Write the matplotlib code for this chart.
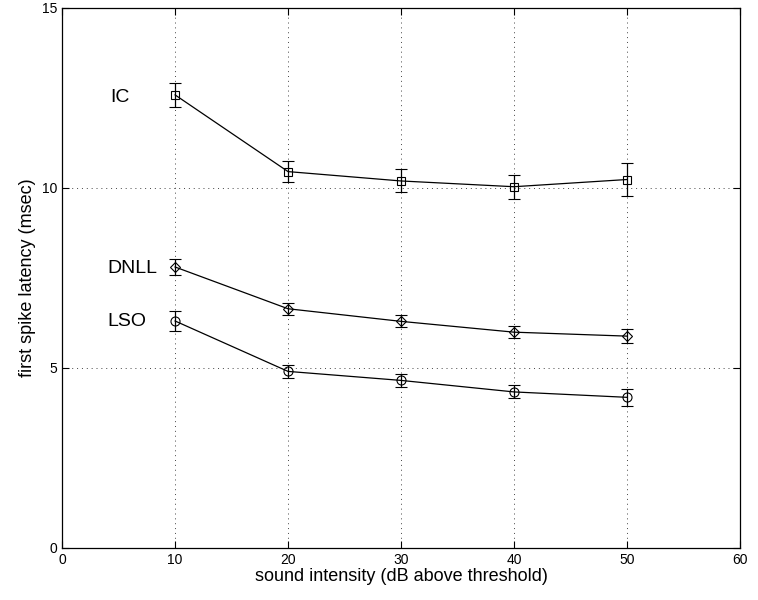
import matplotlib
matplotlib.use("Agg")
import matplotlib.pyplot as plt

plt.rcParams['font.family'] = ['Liberation Sans', 'DejaVu Sans']

intensity = [10, 20, 30, 40, 50]

ic = [12.58, 10.45, 10.19, 10.03, 10.23]
ic_err = [0.33, 0.30, 0.32, 0.33, 0.45]

dnll = [7.80, 6.64, 6.29, 5.99, 5.88]
dnll_err = [0.22, 0.17, 0.17, 0.17, 0.20]

lso = [6.30, 4.90, 4.65, 4.33, 4.18]
lso_err = [0.27, 0.17, 0.17, 0.18, 0.23]

fig = plt.figure(figsize=(7.58, 6), dpi=100)
ax = fig.add_axes([0.082, 0.087, 0.894, 0.900])

style = dict(color='black', lw=0.9, capsize=4, elinewidth=0.9, capthick=0.9,
             mfc='none', mec='black', mew=0.8)
ax.errorbar(intensity, ic, yerr=ic_err, marker='s', ms=6, **style)
ax.errorbar(intensity, dnll, yerr=dnll_err, marker='D', ms=5.5, **style)
ax.errorbar(intensity, lso, yerr=lso_err, marker='o', ms=6.5, **style)

ax.text(4.3, 12.5, 'IC', fontsize=14, va='center', ha='left')
ax.text(4.0, 7.75, 'DNLL', fontsize=14, va='center', ha='left')
ax.text(4.0, 6.3, 'LSO', fontsize=14, va='center', ha='left')

ax.set_xlim(0, 60)
ax.set_ylim(0, 15)
ax.set_xticks([0, 10, 20, 30, 40, 50, 60])
ax.set_yticks([0, 5, 10, 15])
ax.grid(True, ls=(0, (1, 4)), color='#444444', lw=0.7)
ax.tick_params(direction='in', length=5, labelsize=10, top=True, right=True)
for s in ax.spines.values():
    s.set_linewidth(0.9)

ax.set_xlabel('sound intensity (dB above threshold)', fontsize=13, labelpad=1)
ax.set_ylabel('first spike latency (msec)', fontsize=13, labelpad=4)

fig.savefig('out.png', dpi=100)
